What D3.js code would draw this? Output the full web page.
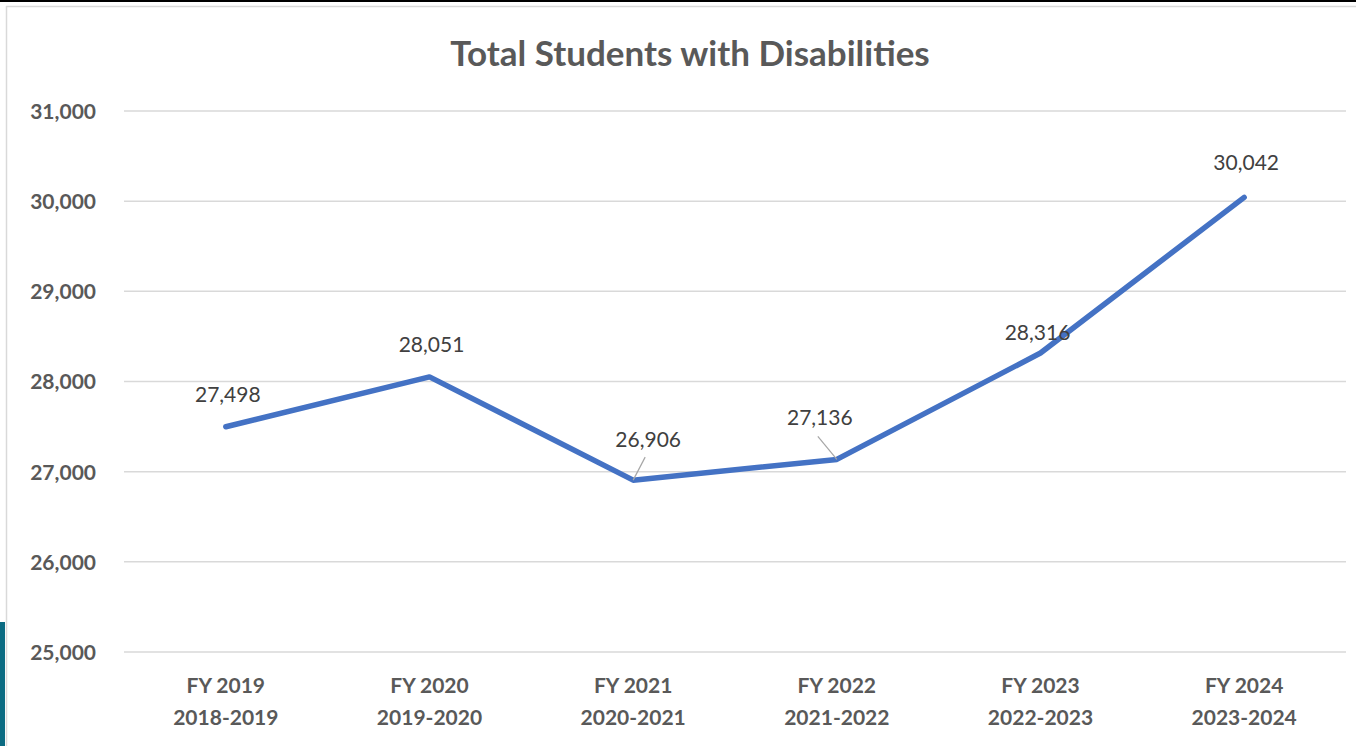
<!DOCTYPE html>
<html>
<head>
<meta charset="utf-8">
<script src="https://cdn.jsdelivr.net/npm/d3@7"></script>
<style>
  html, body { margin: 0; padding: 0; background: #fff; }
  svg { display: block; }
</style>
</head>
<body>
<svg id="chart" width="1356" height="746"></svg>
<script>
const title = "Total Students with Disabilities";
const categories = ["FY 2019", "FY 2020", "FY 2021", "FY 2022", "FY 2023", "FY 2024"];
const subCategories = ["2018-2019", "2019-2020", "2020-2021", "2021-2022", "2022-2023", "2023-2024"];
const values = [27498, 28051, 26906, 27136, 28316, 30042];
const yTicks = [25000, 26000, 27000, 28000, 29000, 30000, 31000];

const W = 1356, H = 746;
const svg = d3.select("#chart");
const font = "Lato, 'Open Sans', sans-serif";

// frame decorations
svg.append("rect").attr("x", 0).attr("y", 0).attr("width", W).attr("height", 2).attr("fill", "#000");
svg.append("line").attr("x1", 6).attr("x2", W).attr("y1", 6.5).attr("y2", 6.5).attr("stroke", "#d9d9d9").attr("stroke-width", 1.5);
svg.append("line").attr("x1", 6.5).attr("x2", 6.5).attr("y1", 6).attr("y2", H).attr("stroke", "#d9d9d9").attr("stroke-width", 1.5);
svg.append("rect").attr("x", 0).attr("y", 622).attr("width", 5).attr("height", H - 622).attr("fill", "#0b6b82");

const x = d3.scaleBand().domain(categories).range([124, 1346]);
const y = d3.scaleLinear().domain([25000, 31000]).range([652, 111]);

// gridlines
svg.append("g").selectAll("line").data(yTicks).join("line")
  .attr("x1", 124).attr("x2", 1346)
  .attr("y1", d => y(d)).attr("y2", d => y(d))
  .attr("stroke", "#d9d9d9").attr("stroke-width", 1.5);

// y axis labels
const yAxis = d3.axisLeft(y).tickValues(yTicks).tickFormat(d3.format(",")).tickSize(0).tickPadding(0);
const gy = svg.append("g").attr("transform", "translate(96,0)").call(yAxis);
gy.select(".domain").remove();
gy.selectAll("text")
  .attr("font-family", font).attr("font-size", 21).attr("font-weight", 700)
  .attr("fill", "#595959").attr("dy", "0.35em");

// x axis labels (two lines)
const xAxis = d3.axisBottom(x).tickSize(0).tickPadding(0).tickFormat(() => "");
const gx = svg.append("g").attr("transform", "translate(0,652)").call(xAxis);
gx.select(".domain").remove();
gx.selectAll(".tick text").each(function(d) {
  const t = d3.select(this);
  t.attr("font-family", font).attr("font-size", 21).attr("font-weight", 700)
   .attr("fill", "#595959").attr("y", 0).attr("dy", null);
  t.append("tspan").attr("x", 0).attr("y", 41).text(d);
  t.append("tspan").attr("x", 0).attr("y", 73).text(subCategories[categories.indexOf(d)]);
});

// line
const cx = d => x(d) + x.bandwidth() / 2;
const line = d3.line().x((d, i) => cx(categories[i])).y(d => y(d));
svg.append("path").datum(values)
  .attr("d", line).attr("fill", "none")
  .attr("stroke", "#4472c4").attr("stroke-width", 5.5)
  .attr("stroke-linejoin", "round").attr("stroke-linecap", "round");

// data labels (offsets relative to point)
const labelOffsets = [[2, -25], [2, -25], [15, -33], [-17, -34], [-3, -13], [2, -27]];
const leaders = [null, null, [[12, -23], [0, 0]], [[-19, -23], [0, 0]], null, null];
values.forEach((v, i) => {
  const px = cx(categories[i]), py = y(v);
  if (leaders[i]) {
    const l = leaders[i];
    svg.append("line")
      .attr("x1", px + l[0][0]).attr("y1", py + l[0][1])
      .attr("x2", px + l[1][0]).attr("y2", py + l[1][1])
      .attr("stroke", "#a6a6a6").attr("stroke-width", 1.2);
  }
});
svg.append("g").selectAll("text").data(values).join("text")
  .attr("x", (d, i) => cx(categories[i]) + labelOffsets[i][0])
  .attr("y", (d, i) => y(d) + labelOffsets[i][1])
  .attr("text-anchor", "middle")
  .attr("font-family", font).attr("font-size", 21)
  .attr("fill", "#404040")
  .text(d => d3.format(",")(d));

// title
svg.append("text")
  .attr("x", 690).attr("y", 66)
  .attr("text-anchor", "middle")
  .attr("font-family", font).attr("font-size", 35).attr("font-weight", 700)
  .attr("fill", "#595959")
  .text(title);
</script>
</body>
</html>
